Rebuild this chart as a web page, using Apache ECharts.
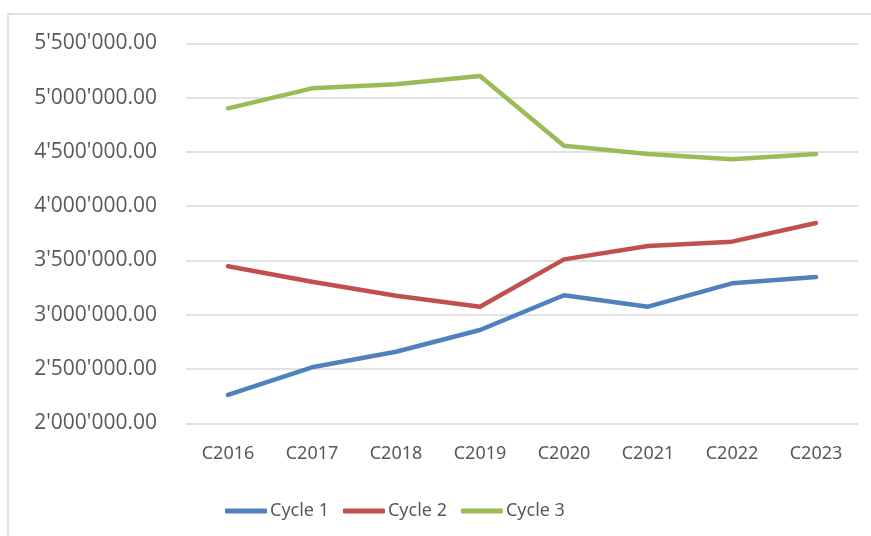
<!DOCTYPE html>
<html>
<head>
<meta charset="utf-8">
<script src="https://cdn.jsdelivr.net/npm/echarts@6/dist/echarts.min.js"></script>
<style>
    html, body { margin: 0; padding: 0; background: #ffffff; }
    #main { width: 871px; height: 536px; }
</style>
</head>
<body>
<div id="main"></div>
<script>
    var categories = ['C2016', 'C2017', 'C2018', 'C2019', 'C2020', 'C2021', 'C2022', 'C2023'];
    var cycle1 = [2261000, 2516000, 2659000, 2859000, 3179000, 3074000, 3289000, 3347000];
    var cycle2 = [3446000, 3304000, 3175000, 3074000, 3510000, 3633000, 3673000, 3845000];
    var cycle3 = [4901000, 5085000, 5122000, 5199000, 4557000, 4480000, 4431000, 4480000];
    var seriesNames = ['Cycle 1', 'Cycle 2', 'Cycle 3'];
    var colors = ['#4f81bd', '#c0504d', '#9bbb59'];

    // 5500000 -> 5'500'000.00
    function fmt(v) {
        var s = Math.round(v).toString().replace(/\B(?=(\d{3})+(?!\d))/g, "'");
        return s + '.00';
    }

    function lineSeries(name, data, color) {
        return {
            name: name,
            type: 'line',
            data: data,
            showSymbol: false,
            symbol: 'none',
            color: color,
            lineStyle: { width: 4.5, color: color, cap: 'round', join: 'round' }
        };
    }

    var chart = echarts.init(document.getElementById('main'), null, { renderer: 'canvas' });
    var option = {
        animation: false,
        backgroundColor: '#ffffff',
        color: colors,
        graphic: [{
            type: 'rect',
            shape: { x: 8, y: 14, width: 900, height: 600 },
            style: { fill: 'none', stroke: '#d9d9d9', lineWidth: 1.5 },
            silent: true
        }],
        grid: { left: 186, right: 13, top: 43.3, bottom: 112.7 },
        legend: {
            data: [
                { name: seriesNames[0], icon: 'roundRect' },
                { name: seriesNames[1], icon: 'roundRect' },
                { name: seriesNames[2], icon: 'roundRect' }
            ],
            left: 220,
            top: 497,
            itemWidth: 42,
            itemHeight: 5,
            itemGap: 14,
            textStyle: { fontFamily: "'Noto Sans'", fontSize: 18, color: '#595959', padding: [0, 0, 0, -2] }
        },
        xAxis: {
            type: 'category',
            data: categories,
            boundaryGap: true,
            axisLine: { show: false },
            axisTick: { show: false },
            axisLabel: { margin: 22, fontFamily: "'Noto Sans'", fontSize: 18, color: '#595959' }
        },
        yAxis: {
            type: 'value',
            min: 2000000,
            max: 5500000,
            interval: 500000,
            axisLine: { show: false },
            axisTick: { show: false },
            splitLine: { lineStyle: { color: '#d9d9d9', width: 1.5 } },
            axisLabel: { margin: 29, formatter: fmt, fontFamily: "'Open Sans'", fontSize: 21, color: '#595959' }
        },
        series: [
            lineSeries(seriesNames[0], cycle1, colors[0]),
            lineSeries(seriesNames[1], cycle2, colors[1]),
            lineSeries(seriesNames[2], cycle3, colors[2])
        ]
    };
    chart.setOption(option);
</script>
</body>
</html>
